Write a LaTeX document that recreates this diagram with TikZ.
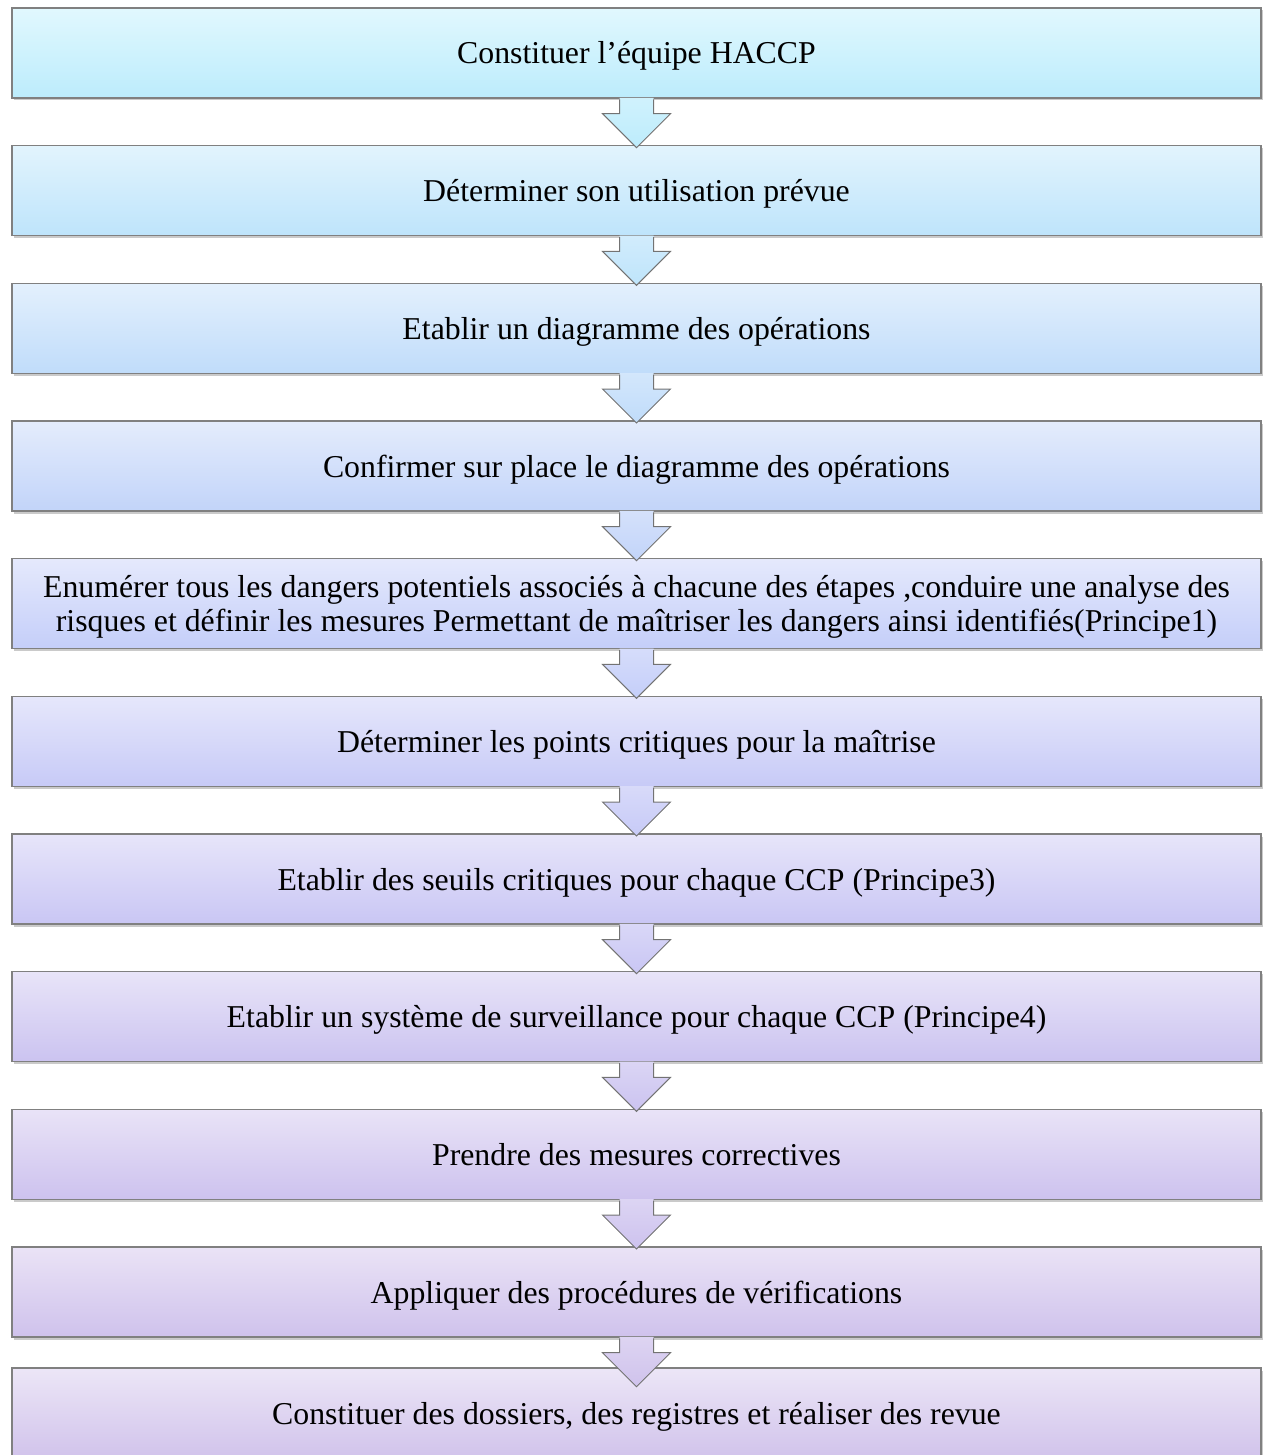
\documentclass[tikz,border=0pt]{standalone}
\usepackage{fontspec}
\setmainfont{Liberation Serif}
\usetikzlibrary{calc,shadows}
\definecolor{bA}{RGB}{188,236,252}\definecolor{tA}{RGB}{225,248,254}
\definecolor{bB}{RGB}{190,228,251}\definecolor{tB}{RGB}{226,244,253}
\definecolor{bC}{RGB}{192,220,250}\definecolor{tC}{RGB}{227,240,253}
\definecolor{bD}{RGB}{194,212,249}\definecolor{tD}{RGB}{228,236,252}
\definecolor{bE}{RGB}{196,206,249}\definecolor{tE}{RGB}{229,233,252}
\definecolor{bF}{RGB}{199,202,247}\definecolor{tF}{RGB}{230,231,251}
\definecolor{bG}{RGB}{201,198,244}\definecolor{tG}{RGB}{231,229,250}
\definecolor{bH}{RGB}{203,195,240}\definecolor{tH}{RGB}{232,228,248}
\definecolor{bI}{RGB}{205,194,238}\definecolor{tI}{RGB}{233,227,247}
\definecolor{bJ}{RGB}{207,194,236}\definecolor{tJ}{RGB}{234,227,246}
\definecolor{bK}{RGB}{209,195,235}\definecolor{tK}{RGB}{236,230,247}
\definecolor{edgegray}{RGB}{128,128,128}
\tikzset{
  stepbox/.style={draw=edgegray, line width=1.4pt, minimum width=1249pt, minimum height=90pt,
    inner sep=0pt, align=center, text=black, text height=29pt, text depth=7pt,
    font=\fontsize{31.8}{34}\selectfont,
    drop shadow={shadow xshift=1.5pt, shadow yshift=-2.5pt, opacity=0.35, fill=black!60}},
  arrowedge/.style={draw=black!55, line width=1pt, line join=miter},
}
\newcommand{\flecha}[3]{%
  \coordinate (#2) at ($(#1.south)+(0,49)$);
  \fill[black!40, opacity=0.35, shift={(1.5,2.5)}]
    ($(#1.south)+(-17,0.7)$) -- ($(#1.south)+(-17,15)$) -- ($(#1.south)+(-34,15)$) -- (#2)
    -- ($(#1.south)+(34,15)$) -- ($(#1.south)+(17,15)$) -- ($(#1.south)+(17,0.7)$) -- cycle;
  \shade[top color=#3!70, bottom color=#3, middle color=#3!85]
    ($(#1.south)+(-17,-0.8)$) -- ($(#1.south)+(-17,15)$) -- ($(#1.south)+(-34,15)$) -- (#2)
    -- ($(#1.south)+(34,15)$) -- ($(#1.south)+(17,15)$) -- ($(#1.south)+(17,-0.8)$) -- cycle;
  \draw[arrowedge]
    ($(#1.south)+(-17,0.7)$) -- ($(#1.south)+(-17,15)$) -- ($(#1.south)+(-34,15)$) -- (#2)
    -- ($(#1.south)+(34,15)$) -- ($(#1.south)+(17,15)$) -- ($(#1.south)+(17,0.7)$);
}
\begin{document}
\begin{tikzpicture}[x=1pt,y=-1pt]
\useasboundingbox (0,0) rectangle (1267,1455);
\node[stepbox, top color=tA, bottom color=bA] (b1) at (636.5,53) {Constituer l’équipe HACCP};
\node[stepbox, top color=tB, bottom color=bB] (b2) at (636.5,190.7) {Déterminer son utilisation prévue};
\node[stepbox, top color=tC, bottom color=bC] (b3) at (636.5,328.3) {Etablir un diagramme des opérations};
\node[stepbox, top color=tD, bottom color=bD] (b4) at (636.5,466) {Confirmer sur place le diagramme des opérations};
\node[stepbox, top color=tE, bottom color=bE, text height=62pt, text depth=7pt] (b5) at (636.5,603.7) {Enumérer tous les dangers potentiels associés à chacune des étapes ,conduire une analyse des\\risques et définir les mesures Permettant de maîtriser les dangers ainsi identifiés(Principe1)};
\node[stepbox, top color=tF, bottom color=bF] (b6) at (636.5,741.3) {Déterminer les points critiques pour la maîtrise};
\node[stepbox, top color=tG, bottom color=bG] (b7) at (636.5,879) {Etablir des seuils critiques pour chaque CCP (Principe3)};
\node[stepbox, top color=tH, bottom color=bH] (b8) at (636.5,1016.7) {Etablir un système de surveillance pour chaque CCP (Principe4)};
\node[stepbox, top color=tI, bottom color=bI] (b9) at (636.5,1154.3) {Prendre des mesures correctives};
\node[stepbox, top color=tJ, bottom color=bJ] (b10) at (636.5,1292) {Appliquer des procédures de vérifications};
\node[stepbox, top color=tK, bottom color=bK] (b11) at (636.5,1413) {Constituer des dossiers, des registres et réaliser des revue};
\flecha{b1}{a1}{bA}
\flecha{b2}{a2}{bB}
\flecha{b3}{a3}{bC}
\flecha{b4}{a4}{bD}
\flecha{b5}{a5}{bE}
\flecha{b6}{a6}{bF}
\flecha{b7}{a7}{bG}
\flecha{b8}{a8}{bH}
\flecha{b9}{a9}{bI}
\flecha{b10}{a10}{bJ}
\end{tikzpicture}
\end{document}
